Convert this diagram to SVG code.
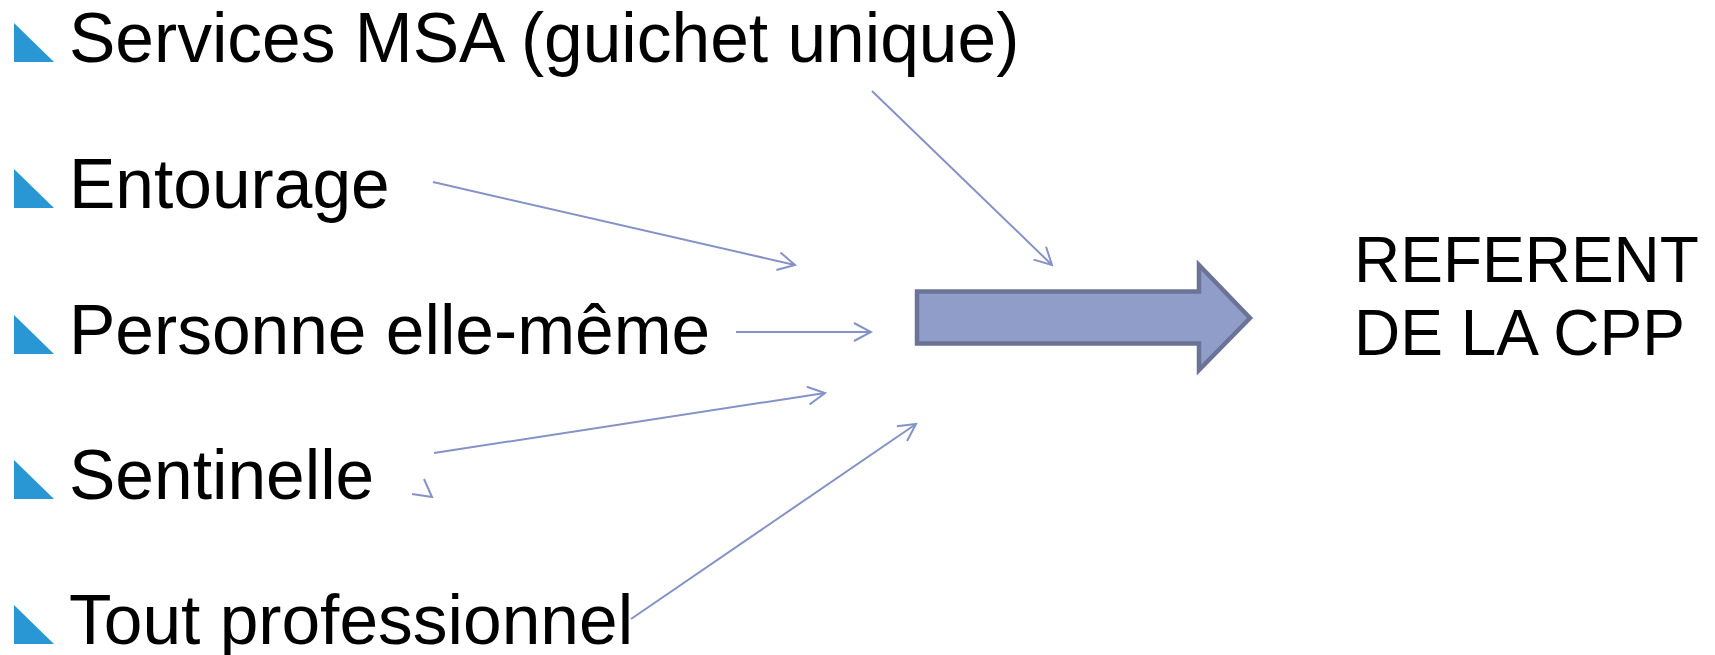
<svg xmlns="http://www.w3.org/2000/svg" width="1715" height="655" viewBox="0 0 1715 655">
  <style>
    .lbl { font-family: "Liberation Sans", Arial, sans-serif; font-size: 69.5px; fill: #000000; }
    .ref { font-family: "Liberation Sans", Arial, sans-serif; font-size: 64px; fill: #000000; }
    .bullet { fill: #2897D3; }
    .conn { fill: none; stroke: #8592C6; stroke-width: 2; marker-end: url(#open); }
    .stray { fill: none; stroke: #8592C6; stroke-width: 2; }
    .big { fill: #8F9DC8; stroke: #6B7497; stroke-width: 4.5; stroke-linejoin: miter; }
  </style>
  <defs>
    <marker id="open" viewBox="0 0 20 20" markerWidth="20" markerHeight="20" markerUnits="userSpaceOnUse" refX="18" refY="10" orient="auto">
      <path d="M1,1 L18,10 L1,19" fill="none" stroke="#8592C6" stroke-width="2"/>
    </marker>
  </defs>
  <rect width="1715" height="655" fill="#FFFFFF"/>

  <g id="node-services">
    <polygon class="bullet" points="14,23 14,62 54,62"/>
    <text class="lbl" x="69" y="62">Services MSA (guichet unique)</text>
  </g>
  <g id="node-entourage">
    <polygon class="bullet" points="14,169 14,208 54,208"/>
    <text class="lbl" x="69" y="208">Entourage</text>
  </g>
  <g id="node-personne">
    <polygon class="bullet" points="14,315 14,354 54,354"/>
    <text class="lbl" x="69" y="354">Personne elle-même</text>
  </g>
  <g id="node-sentinelle">
    <polygon class="bullet" points="14,460 14,499 54,499"/>
    <text class="lbl" x="69" y="499">Sentinelle</text>
  </g>
  <g id="node-tout">
    <polygon class="bullet" points="14,605 14,644 54,644"/>
    <text class="lbl" x="69" y="644">Tout professionnel</text>
  </g>

  <g id="node-bigarrow">
    <polygon class="big" points="917,291.5 1199,291.5 1199,265 1250,318 1199,370 1199,343.5 917,343.5"/>
  </g>

  <g id="node-referent">
    <text class="ref" x="1354" y="282">REFERENT</text>
    <text class="ref" x="1354" y="355">DE LA CPP</text>
  </g>

  <g id="connectors">
    <line class="conn" x1="872" y1="91" x2="1052" y2="265"/>
    <line class="conn" x1="433" y1="182" x2="795" y2="265"/>
    <line class="conn" x1="736" y1="332" x2="871" y2="332"/>
    <line class="conn" x1="434" y1="453" x2="825" y2="393"/>
    <line class="conn" x1="631" y1="619" x2="916" y2="424"/>
    <path class="stray" d="M424,479 L432,497 L412,494"/>
  </g>
</svg>
